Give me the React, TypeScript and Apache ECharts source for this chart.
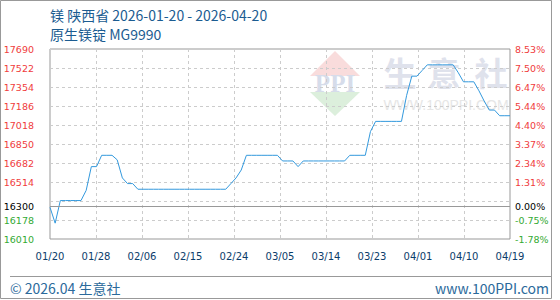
import React, { useEffect, useRef } from 'react';
import * as echarts from 'echarts';

const titleLine1 = '镁 陕西省 2026-01-20 - 2026-04-20';
const titleLine2 = '原生镁锭 MG9990';
const footerLeft = '© 2026.04 生意社';
const footerRight = 'www.100PPI.com';

const xTickLabels = ['01/20', '01/28', '02/06', '02/15', '02/24', '03/05', '03/14', '03/23', '04/01', '04/10', '04/19'];

const prices = [
  16290, 16150, 16350, 16350, 16350, 16350, 16350, 16440, 16650, 16650,
  16750, 16750, 16750, 16710, 16550, 16500, 16500, 16450, 16450, 16450,
  16450, 16450, 16450, 16450, 16450, 16450, 16450, 16450, 16450, 16450,
  16450, 16450, 16450, 16450, 16450, 16500, 16550, 16620, 16750, 16750,
  16750, 16750, 16750, 16750, 16750, 16700, 16700, 16700, 16650, 16700,
  16700, 16700, 16700, 16700, 16700, 16700, 16700, 16700, 16750, 16750,
  16750, 16750, 16960, 17050, 17050, 17050, 17050, 17050, 17050, 17280,
  17450, 17450, 17500, 17550, 17550, 17550, 17550, 17550, 17550, 17480,
  17400, 17400, 17400, 17320, 17230, 17150, 17150, 17100, 17100, 17100,
];

const axisMin = 16010;
const axisMax = 17690;
const axisStep = 168;
const basePrice = 16300;

const RED = '#f03c3c';
const GREEN = '#33aa33';
const BLACK = '#000000';
const AXIS_FONT = 'DejaVu Sans';
const CJK_FONT = 'Noto Sans CJK SC';

export default function App() {
  const ref = useRef<HTMLDivElement>(null);

  useEffect(() => {
    if (!ref.current) return;
    const chart = echarts.init(ref.current, null, { renderer: 'svg' });
    const data = prices.map((p, i) => [i, p - axisMin]);
    const baseOffset = basePrice - axisMin;
    const xMax = prices.length - 1;
    const xInterval = xMax / (xTickLabels.length - 1);

    const colorOf = (raw: any) => {
      const v = Number(raw) + axisMin;
      if (Math.abs(v - basePrice) < 1e-6) return BLACK;
      return v > basePrice ? RED : GREEN;
    };
    const hideNearBase = (raw: number) => Math.abs(raw + axisMin - basePrice) < axisStep / 2;

    chart.setOption({
      animation: false,
      grid: {
        left: 50,
        right: 50,
        top: 49,
        height: 190,
        show: true,
        borderColor: '#999',
        borderWidth: 1,
        backgroundColor: 'transparent',
      },
      xAxis: {
        type: 'value',
        min: 0,
        max: xMax,
        interval: xInterval,
        axisLine: { show: false },
        axisTick: { show: false },
        splitLine: { show: true, lineStyle: { color: '#cccccc', type: [3, 3], width: 1 } },
        axisLabel: {
          margin: 12,
          fontFamily: AXIS_FONT,
          fontSize: 10,
          color: '#0b3d6b',
          showMinLabel: true,
          showMaxLabel: true,
          formatter: (v: number) => xTickLabels[Math.round(v / xInterval)] ?? '',
        },
      },
      yAxis: [
        {
          type: 'value',
          position: 'left',
          min: 0,
          max: axisMax - axisMin,
          interval: axisStep,
          axisLine: { show: false },
          axisTick: { show: false },
          splitLine: { show: true, lineStyle: { color: '#cccccc', type: [3, 3], width: 1 } },
          axisLabel: {
            margin: 16,
            fontFamily: AXIS_FONT,
            fontSize: 9.5,
            color: (v: any) => colorOf(v),
            formatter: (v: number) => (hideNearBase(v) ? '' : String(v + axisMin)),
          },
        },
        {
          type: 'value',
          position: 'right',
          min: 0,
          max: axisMax - axisMin,
          interval: axisStep,
          axisLine: { show: false },
          axisTick: { show: false },
          splitLine: { show: false },
          axisLabel: {
            margin: 5,
            fontFamily: AXIS_FONT,
            fontSize: 9.5,
            color: (v: any) => colorOf(v),
            formatter: (v: number) =>
              hideNearBase(v) ? '' : (((v + axisMin - basePrice) / basePrice) * 100).toFixed(2) + '%',
          },
        },
      ],
      graphic: [
        {
          type: 'rect',
          silent: true,
          shape: { x: 0.5, y: 0.5, width: 551, height: 298 },
          style: { fill: 'none', stroke: '#999', lineWidth: 1 },
        },
        {
          type: 'polygon',
          silent: true,
          z: -1,
          shape: { points: [[335, 51], [310, 76], [360, 76]] },
          style: { fill: '#f9dcdc' },
        },
        {
          type: 'polygon',
          silent: true,
          z: -1,
          shape: { points: [[310, 92], [360, 92], [335, 116]] },
          style: { fill: '#dcefdc' },
        },
        {
          type: 'text',
          silent: true,
          z: -1,
          x: 335,
          y: 83,
          style: {
            text: 'PPI',
            fontFamily: 'Liberation Serif',
            fontWeight: 'bold',
            fontSize: 25,
            fill: '#d6dcea',
            align: 'center',
            verticalAlign: 'middle',
          },
        },
        ...['生', '意', '社'].map((ch, i) => ({
          type: 'text',
          silent: true,
          z: -1,
          x: [400, 444, 491][i],
          y: 72,
          style: {
            text: ch,
            fontFamily: CJK_FONT,
            fontWeight: 'bold',
            fontSize: 33,
            fill: '#dfe2ec',
            align: 'center',
            verticalAlign: 'middle',
          },
        })),
        {
          type: 'text',
          silent: true,
          z: -1,
          x: 446,
          y: 105,
          style: {
            text: 'WWW.100PPI.COM',
            fontFamily: 'Liberation Sans',
            fontSize: 14,
            fill: '#e6e6e6',
            align: 'center',
            verticalAlign: 'middle',
          },
        },
        {
          type: 'text',
          x: 50,
          y: 15,
          style: {
            text: titleLine1,
            fontFamily: CJK_FONT,
            fontSize: 14,
            fill: '#1b5c91',
            align: 'left',
            verticalAlign: 'middle',
          },
        },
        {
          type: 'text',
          x: 50,
          y: 34,
          style: {
            text: titleLine2,
            fontFamily: CJK_FONT,
            fontSize: 14,
            fill: '#1b5c91',
            align: 'left',
            verticalAlign: 'middle',
          },
        },
        {
          type: 'line',
          silent: true,
          shape: { x1: 10, y1: 276.5, x2: 551, y2: 276.5 },
          style: { stroke: '#999', lineWidth: 1 },
        },
        {
          type: 'text',
          x: 10,
          y: 288,
          style: {
            text: footerLeft,
            fontFamily: CJK_FONT,
            fontSize: 14,
            fill: '#2b6a9b',
            align: 'left',
            verticalAlign: 'middle',
          },
        },
        {
          type: 'text',
          x: 549,
          y: 288,
          style: {
            text: footerRight,
            fontFamily: CJK_FONT,
            fontSize: 14,
            fill: '#2b6a9b',
            align: 'right',
            verticalAlign: 'middle',
          },
        },
      ],
      series: [
        {
          type: 'line',
          data,
          symbol: 'none',
          showSymbol: false,
          lineStyle: { color: '#3399dd', width: 1 },
          z: 3,
          markLine: {
            silent: true,
            symbol: 'none',
            lineStyle: { color: '#999', type: 'solid', width: 1 },
            label: { fontFamily: AXIS_FONT, fontSize: 9.5, color: BLACK },
            data: [
              { yAxis: baseOffset, label: { position: 'start', distance: 16, formatter: String(basePrice) } },
              { yAxis: baseOffset, label: { position: 'end', distance: 5, formatter: '0.00%' } },
            ],
          },
        },
      ],
    });

    return () => chart.dispose();
  }, []);

  return (
    <div
      ref={ref}
      style={{ position: 'fixed', left: 0, top: 0, width: 560, height: 300, background: '#fff' }}
    />
  );
}
